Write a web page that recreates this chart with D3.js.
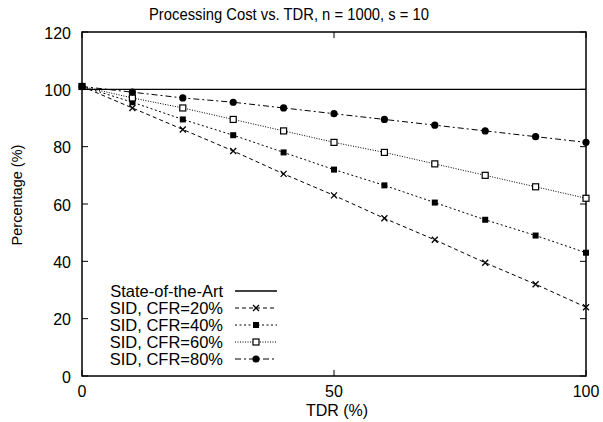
<!DOCTYPE html>
<html><head><meta charset="utf-8">
<script src="https://cdn.jsdelivr.net/npm/d3@7"></script>
<style>body{margin:0;background:#fff}svg{display:block}text{font-family:"Liberation Sans",Arial,sans-serif;fill:#000}</style>
</head><body><svg id="c" width="603" height="422"></svg>
<script>
const tdr = [0,10,20,30,40,50,60,70,80,90,100];
const stateOfArt = [100,100,100,100,100,100,100,100,100,100,100];
const cfr20 = [101,93.5,86,78.5,70.5,63,55,47.5,39.5,32,24];
const cfr40 = [101,95.5,89.5,84,78,72,66.5,60.5,54.5,49,43];
const cfr60 = [101,97,93.5,89.5,85.5,81.5,78,74,70,66,62];
const cfr80 = [101,99,97,95.5,93.5,91.5,89.5,87.5,85.5,83.5,81.5];
const seriesNames = ["State-of-the-Art","SID, CFR=20%","SID, CFR=40%","SID, CFR=60%","SID, CFR=80%"];
const xTicks = [0,50,100];
const yTicks = [0,20,40,60,80,100,120];

const series = [
  {name:seriesNames[0], vals:stateOfArt, dash:null, marker:null},
  {name:seriesNames[1], vals:cfr20, dash:"4,3", marker:"x"},
  {name:seriesNames[2], vals:cfr40, dash:"2,2.5", marker:"fsq"},
  {name:seriesNames[3], vals:cfr60, dash:"1,1.5", marker:"osq"},
  {name:seriesNames[4], vals:cfr80, dash:"6,3,2,3", marker:"circ"}
];

const svg = d3.select("#c");
const L=82, R=586, T=32, B=376;
const x = d3.scaleLinear().domain([0,100]).range([L,R]);
const y = d3.scaleLinear().domain([0,120]).range([B,T]);

// title
svg.append("text").attr("x",289).attr("y",20).attr("text-anchor","middle").attr("font-size",16)
  .attr("textLength",280).attr("lengthAdjust","spacingAndGlyphs").text("Processing Cost vs. TDR, n = 1000, s = 10");
// axis labels
svg.append("text").attr("x",337).attr("y",416).attr("text-anchor","middle").attr("font-size",16).text("TDR (%)");
svg.append("text").attr("transform","translate(22,195) rotate(-90)").attr("text-anchor","middle").attr("font-size",14.5).text("Percentage (%)");

// frame
svg.append("rect").attr("x",L).attr("y",T).attr("width",R-L).attr("height",B-T).attr("fill","none").attr("stroke","#000").attr("stroke-width",1.5);

// ticks
const g = svg.append("g");
yTicks.forEach(t=>{
  g.append("line").attr("x1",L).attr("x2",L+6).attr("y1",y(t)).attr("y2",y(t)).attr("stroke","#000");
  g.append("line").attr("x1",R).attr("x2",R-6).attr("y1",y(t)).attr("y2",y(t)).attr("stroke","#000");
  g.append("text").attr("x",L-11).attr("y",y(t)+6.5).attr("text-anchor","end").attr("font-size",16).text(t);
});
xTicks.forEach(t=>{
  g.append("line").attr("x1",x(t)).attr("x2",x(t)).attr("y1",B).attr("y2",B-6).attr("stroke","#000");
  g.append("line").attr("x1",x(t)).attr("x2",x(t)).attr("y1",T).attr("y2",T+6).attr("stroke","#000");
  g.append("text").attr("x",x(t)).attr("y",B+21).attr("text-anchor","middle").attr("font-size",16).text(t);
});

function drawMarker(sel, type, cx, cy){
  if(type==="x"){
    sel.append("path").attr("d",`M${cx-3},${cy-3}L${cx+3},${cy+3}M${cx-3},${cy+3}L${cx+3},${cy-3}`).attr("stroke","#000").attr("stroke-width",1.3);
  } else if(type==="fsq"){
    sel.append("rect").attr("x",cx-3).attr("y",cy-3).attr("width",6).attr("height",6).attr("fill","#000");
  } else if(type==="osq"){
    sel.append("rect").attr("x",cx-3).attr("y",cy-3).attr("width",6).attr("height",6).attr("fill","#fff").attr("stroke","#000").attr("stroke-width",1.2);
  } else if(type==="circ"){
    sel.append("circle").attr("cx",cx).attr("cy",cy).attr("r",3.6).attr("fill","#000");
  }
}

const line = d3.line().x((d,i)=>x(tdr[i])).y(d=>y(d));
series.forEach(s=>{
  const p = svg.append("path").attr("d",line(s.vals)).attr("fill","none").attr("stroke","#000").attr("stroke-width",s.dash?1:1.3);
  if(s.dash) p.attr("stroke-dasharray",s.dash);
  if(s.marker){
    const mg = svg.append("g");
    s.vals.forEach((v,i)=>drawMarker(mg,s.marker,x(tdr[i]),y(v)));
  }
});

// legend
const leg = svg.append("g");
series.forEach((s,i)=>{
  const ly = 291 + i*17;
  leg.append("text").attr("x",223).attr("y",ly+6).attr("text-anchor","end").attr("font-size",16.5).text(s.name);
  const p = leg.append("line").attr("x1",235).attr("x2",277).attr("y1",ly).attr("y2",ly).attr("stroke","#000").attr("stroke-width",s.dash?1:1.3);
  if(s.dash) p.attr("stroke-dasharray",s.dash);
  if(s.marker) drawMarker(leg,s.marker,256,ly);
});
</script></body></html>
